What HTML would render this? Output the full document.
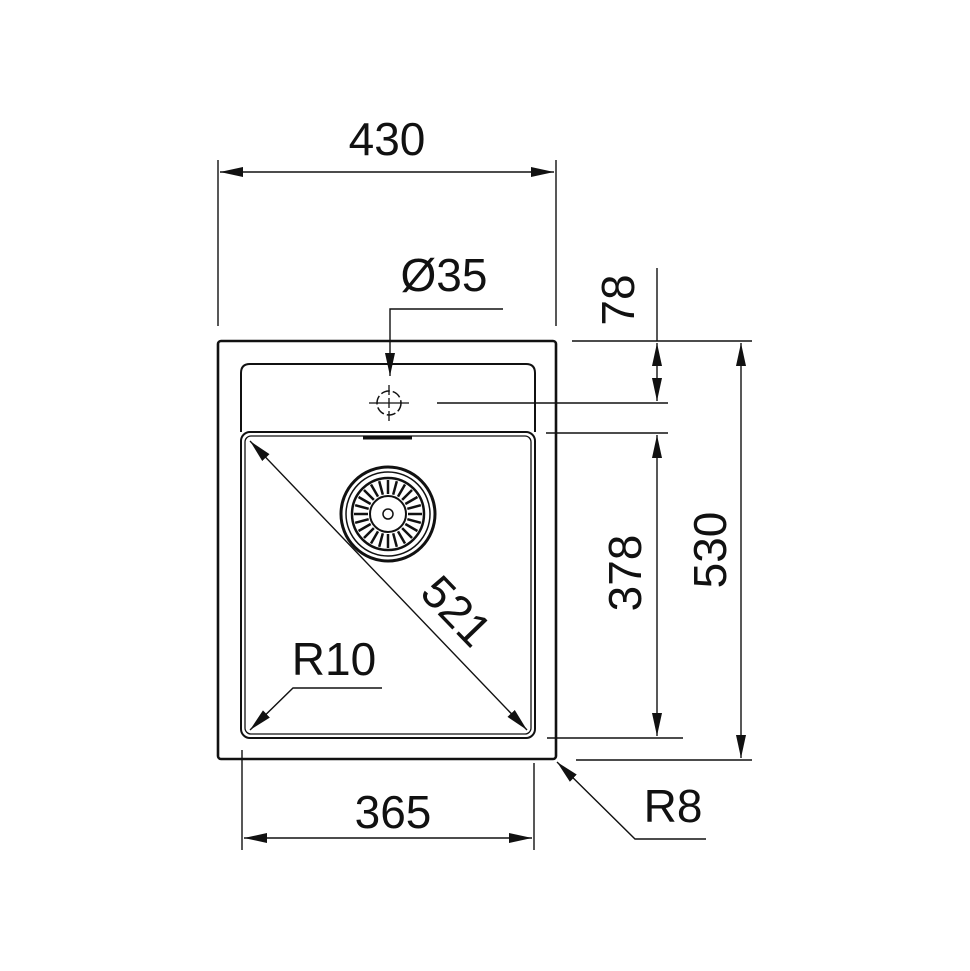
<!DOCTYPE html>
<html><head><meta charset="utf-8"><style>
html,body{margin:0;padding:0;background:#fff;}
svg{display:block;}
text{font-family:"Liberation Sans",Arial,sans-serif;fill:#111;}
</style></head><body>
<svg width="970" height="971" viewBox="0 0 970 971" xmlns="http://www.w3.org/2000/svg">
<defs>
<marker id="a" markerWidth="24" markerHeight="12" refX="23" refY="6" orient="auto-start-reverse" markerUnits="userSpaceOnUse">
<path d="M0,1 L23,6 L0,11 Z" fill="#111"/>
</marker>
</defs>
<g stroke="#111" fill="none">
<!-- outer -->
<rect x="218" y="341" width="338" height="418" rx="3" stroke-width="2.6"/>
<!-- top deck panel -->
<path d="M241,432 L241,373 Q241,364 250,364 L526,364 Q535,364 535,373 L535,432" stroke-width="2"/>
<!-- bowl -->
<rect x="241" y="432" width="294" height="306" rx="9" stroke-width="2"/>
<rect x="245" y="436" width="286" height="298" rx="6" stroke-width="1.3"/>
<line x1="363" y1="438" x2="412" y2="438" stroke-width="3"/>
<!-- strainer -->
<g transform="translate(388,514)">
<circle r="47" stroke-width="3"/>
<circle r="42" stroke-width="1.5"/>
<circle r="36" stroke-width="2.5"/>
<circle r="18" stroke-width="2"/>
<circle r="5" stroke-width="1.5"/>
<g stroke-width="2.5">
<line x1="20" y1="0" x2="34" y2="0"/><line x1="20" y1="0" x2="34" y2="0" transform="rotate(15)"/><line x1="20" y1="0" x2="34" y2="0" transform="rotate(30)"/><line x1="20" y1="0" x2="34" y2="0" transform="rotate(45)"/><line x1="20" y1="0" x2="34" y2="0" transform="rotate(60)"/><line x1="20" y1="0" x2="34" y2="0" transform="rotate(75)"/><line x1="20" y1="0" x2="34" y2="0" transform="rotate(90)"/><line x1="20" y1="0" x2="34" y2="0" transform="rotate(105)"/><line x1="20" y1="0" x2="34" y2="0" transform="rotate(120)"/><line x1="20" y1="0" x2="34" y2="0" transform="rotate(135)"/><line x1="20" y1="0" x2="34" y2="0" transform="rotate(150)"/><line x1="20" y1="0" x2="34" y2="0" transform="rotate(165)"/><line x1="20" y1="0" x2="34" y2="0" transform="rotate(180)"/><line x1="20" y1="0" x2="34" y2="0" transform="rotate(195)"/><line x1="20" y1="0" x2="34" y2="0" transform="rotate(210)"/><line x1="20" y1="0" x2="34" y2="0" transform="rotate(225)"/><line x1="20" y1="0" x2="34" y2="0" transform="rotate(240)"/><line x1="20" y1="0" x2="34" y2="0" transform="rotate(255)"/><line x1="20" y1="0" x2="34" y2="0" transform="rotate(270)"/><line x1="20" y1="0" x2="34" y2="0" transform="rotate(285)"/><line x1="20" y1="0" x2="34" y2="0" transform="rotate(300)"/><line x1="20" y1="0" x2="34" y2="0" transform="rotate(315)"/><line x1="20" y1="0" x2="34" y2="0" transform="rotate(330)"/><line x1="20" y1="0" x2="34" y2="0" transform="rotate(345)"/>
</g>
</g>
<!-- tap hole -->
<circle cx="389" cy="403" r="12" stroke-width="1.5" stroke-dasharray="9,3"/>
<line x1="389" y1="385" x2="389" y2="421" stroke-width="1.3" stroke-dasharray="10,3"/>
<line x1="369" y1="403" x2="409" y2="403" stroke-width="1.3"/>
<!-- dims lines -->
<g stroke-width="1.4">
<line x1="218" y1="160" x2="218" y2="326"/>
<line x1="556" y1="160" x2="556" y2="326"/>
<line x1="220" y1="172" x2="554" y2="172" marker-start="url(#a)" marker-end="url(#a)"/>
<path d="M503,309 L390,309 L390,376" marker-end="url(#a)"/>
<line x1="437" y1="403" x2="668" y2="403"/>
<line x1="572" y1="341" x2="752" y2="341"/>
<line x1="546" y1="433" x2="668" y2="433"/>
<line x1="547" y1="738" x2="683" y2="738"/>
<line x1="576" y1="760" x2="752" y2="760"/>
<line x1="657" y1="268" x2="657" y2="341"/>
<line x1="657" y1="343" x2="657" y2="401" marker-start="url(#a)" marker-end="url(#a)"/>
<line x1="657" y1="435" x2="657" y2="736" marker-start="url(#a)" marker-end="url(#a)"/>
<line x1="741" y1="343" x2="741" y2="758" marker-start="url(#a)" marker-end="url(#a)"/>
<line x1="242" y1="750" x2="242" y2="850"/>
<line x1="534" y1="763" x2="534" y2="850"/>
<line x1="244" y1="838" x2="532" y2="838" marker-start="url(#a)" marker-end="url(#a)"/>
<line x1="250" y1="441" x2="527" y2="730" marker-start="url(#a)" marker-end="url(#a)"/>
<path d="M382,688 L293,688 L250,730" marker-end="url(#a)"/>
<path d="M706,839 L635,839 L557,762" marker-end="url(#a)"/>
</g>
</g>
<g font-size="46">
<text x="387" y="155" text-anchor="middle">430</text>
<text x="444" y="291" text-anchor="middle">Ø35</text>
<text x="393" y="828" text-anchor="middle">365</text>
<text x="334" y="675" text-anchor="middle">R10</text>
<text x="673" y="822" text-anchor="middle">R8</text>
<text transform="translate(634,300) rotate(-90)" text-anchor="middle">78</text>
<text transform="translate(641,573) rotate(-90)" text-anchor="middle">378</text>
<text transform="translate(726,550) rotate(-90)" text-anchor="middle">530</text>
<text transform="translate(445,622) rotate(46)" text-anchor="middle">521</text>
</g>
</svg>
</body></html>
